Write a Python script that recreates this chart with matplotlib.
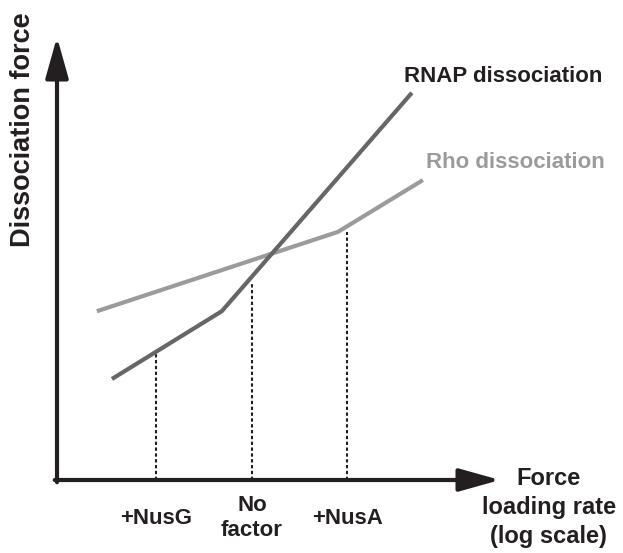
import matplotlib.pyplot as plt

plt.rcParams['font.family'] = ['Liberation Sans', 'DejaVu Sans']
plt.rcParams['font.weight'] = 'bold'

# Schematic values (arbitrary units, x = log loading rate, y = force)
rnap_x = [1.24, 3.72, 8.01]
rnap_y = [2.28, 3.81, 8.74]
rho_x = [0.90, 6.34, 8.26]
rho_y = [3.81, 5.60, 6.77]

conditions = ['+NusG', 'No\nfactor', '+NusA']
cond_x = [2.23, 4.40, 6.55]
cond_force = [2.87, 4.47, 5.60]

axis_color = '#231f20'
rnap_color = '#666666'
rho_color = '#9b9b9b'

fig = plt.figure(figsize=(6.23, 5.53), dpi=100)
ax = fig.add_axes([57 / 623, 73 / 553, 443 / 623, 443 / 553])
ax.set_xlim(0, 10)
ax.set_ylim(0, 10)
ax.axis('off')

# axes arrows
arrow = dict(arrowstyle='-|>,head_length=2.5,head_width=0.7', lw=3,
             color=axis_color, shrinkA=0, shrinkB=0, mutation_scale=10)
ax.annotate('', xy=(10, 0), xytext=(-0.05, 0), arrowprops=arrow, annotation_clip=False)
ax.annotate('', xy=(0, 10), xytext=(0, -0.05), arrowprops=arrow, annotation_clip=False)

# dotted guides from each condition up to the curve
for x, f in zip(cond_x, cond_force):
    ax.plot([x, x], [0, f], color=axis_color, lw=1.5, linestyle=(0, (1.6, 1.2)), zorder=1)

ax.plot(rho_x, rho_y, color=rho_color, lw=3, solid_capstyle='butt', zorder=2)
ax.plot(rnap_x, rnap_y, color=rnap_color, lw=3, solid_capstyle='butt', zorder=3)

for x, lab in zip(cond_x, conditions):
    ax.text(x, -0.86, lab, ha='center', va='center', fontsize=16,
            color=axis_color, linespacing=1.2, clip_on=False)

ax.text(10.07, 9.10, 'RNAP dissociation', ha='center', va='center',
        fontsize=16, color=axis_color, clip_on=False)
ax.text(10.34, 7.16, 'Rho dissociation', ha='center', va='center',
        fontsize=16, color=rho_color, clip_on=False)

ax.text(11.1, -0.62, 'Force\nloading rate\n(log scale)', ha='center', va='center',
        fontsize=17, color=axis_color, linespacing=1.35, clip_on=False)

ax.text(-0.77, 7.9, 'Dissociation force', ha='center', va='center', rotation=90,
        fontsize=19.5, color=axis_color, clip_on=False)

fig.savefig('out.png', dpi=100)
